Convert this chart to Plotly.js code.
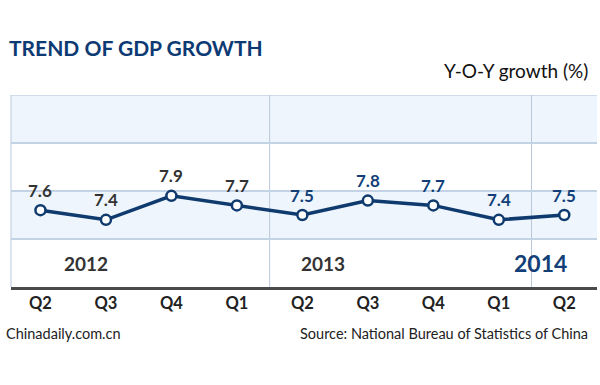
<!DOCTYPE html>
<html><head><meta charset="utf-8">
<script src="https://cdn.plot.ly/plotly-3.0.1.min.js"></script>
<style>html,body{margin:0;padding:0;background:#fff}#chart{width:600px;height:385px}</style>
</head><body><div id="chart"></div>
<script>
const quarters = ["Q2","Q3","Q4","Q1","Q2","Q3","Q4","Q1","Q2"];
const growth = [7.6, 7.4, 7.9, 7.7, 7.5, 7.8, 7.7, 7.4, 7.5];
const years = ["2012","2013","2014"];
const yearPos = [0.69, 4.31, 7.63];
const labelColors = ["#333333","#333333","#333333","#333333","#123f78","#123f78","#123f78","#123f78","#123f78"];

const idx = quarters.map((q,i)=>i);
const FONT = "Lato, 'Open Sans', sans-serif";
const navy = "#0f3a6e";

const annotations = [];
growth.forEach((v,i)=>{
  annotations.push({x: idx[i], y: v, xref:'x', yref:'y', text: v.toFixed(1), showarrow:false,
    yshift: 20, font:{family:FONT, size:17, color: labelColors[i], weight:700}});
});
years.forEach((yr,i)=>{
  annotations.push({x: yearPos[i], y: 6.5, xref:'x', yref:'y', text: yr, showarrow:false,
    font:{family:FONT, size: i===2 ? 23 : 19, color: i===2 ? "#123f78" : "#333333", weight:700}});
});
annotations.push({x:-0.006, y: 1.25, xref:'paper', yref:'paper', xanchor:'left', yanchor:'middle', showarrow:false,
  text:"TREND OF GDP GROWTH", font:{family:FONT, size:21, color:"#0d3a73", weight:700}});
annotations.push({x:0.988, y: 1.13, xref:'paper', yref:'paper', xanchor:'right', yanchor:'middle', showarrow:false,
  text:"Y-O-Y growth (%)", font:{family:FONT, size:19, color:"#111111"}});
annotations.push({x:-0.012, y: -0.24, xref:'paper', yref:'paper', xanchor:'left', yanchor:'middle', showarrow:false,
  text:"Chinadaily.com.cn", font:{family:FONT, size:14.5, color:"#222222"}});
annotations.push({x:0.988, y: -0.24, xref:'paper', yref:'paper', xanchor:'right', yanchor:'middle', showarrow:false,
  text:"Source: National Bureau of Statistics of China", font:{family:FONT, size:14.5, color:"#222222"}});

const band = "#eef5fc";
const shapes = [
  {type:'rect', xref:'paper', yref:'y', x0:0, x1:1, y0:9, y1:10, fillcolor:band, line:{width:0}, layer:'below'},
  {type:'rect', xref:'paper', yref:'y', x0:0, x1:1, y0:7, y1:8, fillcolor:band, line:{width:0}, layer:'below'},
  {type:'line', xref:'paper', yref:'y', x0:0, x1:1, y0:10, y1:10, line:{color:"#c3d3e6", width:1.5}, layer:'below'},
  {type:'line', xref:'x', yref:'paper', x0:3.5, x1:3.5, y0:0, y1:1, line:{color:"#b8c8da", width:1}, layer:'below'},
  {type:'line', xref:'x', yref:'paper', x0:7.5, x1:7.5, y0:0, y1:1, line:{color:"#b8c8da", width:1}, layer:'below'},
  {type:'line', xref:'paper', yref:'paper', x0:0, x1:0, y0:0, y1:1, line:{color:"#b8c8da", width:1}, layer:'below'}
];

const trace = {
  x: idx, y: growth, type:'scatter', mode:'lines+markers',
  line:{color:navy, width:3.5},
  marker:{size:10, color:'#ffffff', line:{color:navy, width:2.5}},
  hoverinfo:'skip'
};

const layout = {
  width:600, height:385,
  margin:{l:11, r:3, t:95, b:98},
  paper_bgcolor:'#ffffff', plot_bgcolor:'rgba(0,0,0,0)',
  showlegend:false,
  xaxis:{range:[-0.45, 8.5], tickvals: idx, ticktext: quarters, showgrid:false, zeroline:false,
    showline:true, linecolor:'#4a4a4a', linewidth:2.5, ticks:'', ticklabelstandoff:0,
    tickfont:{family:FONT, size:16.5, color:'#222222', weight:700}, fixedrange:true},
  yaxis:{range:[6,10], dtick:1, showticklabels:false, ticks:'', showgrid:true, gridcolor:'#c3d3e6', gridwidth:1.2,
    zeroline:false, showline:false, fixedrange:true},
  shapes, annotations
};
Plotly.newPlot('chart', [trace], layout, {displayModeBar:false, staticPlot:true});
</script></body></html>
